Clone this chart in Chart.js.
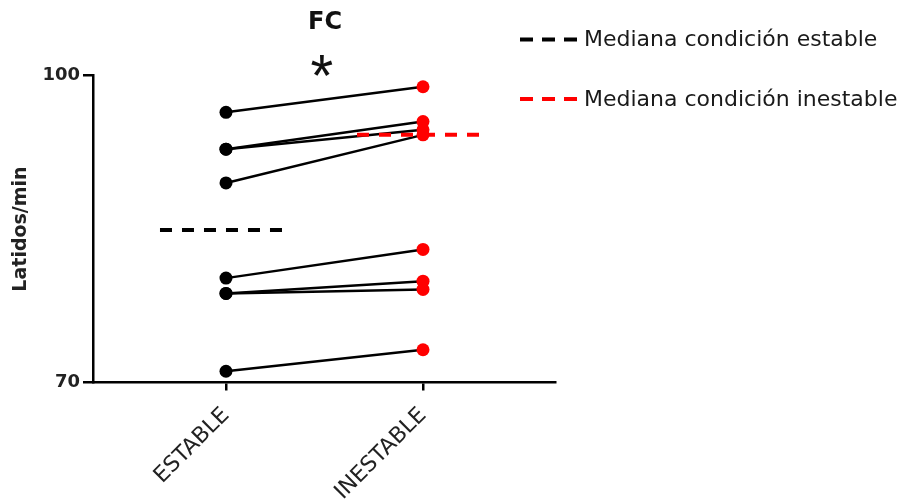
<!DOCTYPE html>
<html>
<head>
<meta charset="utf-8">
<script src="https://cdn.jsdelivr.net/npm/chart.js@4/dist/chart.umd.min.js"></script>
<style>
  html, body { margin: 0; padding: 0; background: #fff; }
  #wrap { width: 906px; height: 500px; }
</style>
</head>
<body>
<div id="wrap"><canvas id="c" width="906" height="500"></canvas></div>
<script>
// Heart rate (beats/min) per subject under each condition
const CATEGORIES = ['ESTABLE', 'INESTABLE'];
const ESTABLE = [96.4, 92.8, 92.8, 89.5, 80.2, 78.7, 78.7, 71.1];
const INESTABLE = [98.9, 95.5, 94.7, 94.2, 83.0, 79.9, 79.1, 73.2];
const MEDIAN_ESTABLE = 84.9;
const MEDIAN_INESTABLE = 94.2;
const Y_TICKS = [70, 100];
const TITLE = 'FC';
const SIGNIFICANCE = '*';
const Y_TITLE = 'Latidos/min';
const LEGEND_LABELS = ['Mediana condición estable', 'Mediana condición inestable'];

const BLACK = '#000000';
const RED = '#ff0000';
const MEDIAN_SPAN = [-0.335, 0.305];   // extent of a median bar around its category
const FONT = '"DejaVu Sans", "Liberation Sans", Arial, sans-serif';

// one segment per subject joining both conditions
const pairDatasets = ESTABLE.map((e, i) => ({
  type: 'line',
  data: [{ x: 0, y: e }, { x: 1, y: INESTABLE[i] }],
  borderColor: BLACK,
  borderWidth: 2.5,
  pointRadius: 0,
  clip: false,
  order: 3
}));

const dotDataset = (values, idx, color) => ({
  type: 'scatter',
  data: values.map(v => ({ x: idx, y: v })),
  pointRadius: 6.5,
  pointBackgroundColor: color,
  pointBorderWidth: 0,
  clip: false,
  order: 0
});

const medianDataset = (value, idx, color) => ({
  type: 'line',
  data: [{ x: idx + MEDIAN_SPAN[0], y: value }, { x: idx + MEDIAN_SPAN[1], y: value }],
  borderColor: color,
  borderWidth: 4,
  borderDash: [12, 10],
  borderCapStyle: 'butt',
  pointRadius: 0,
  clip: false,
  order: 1
});

// title, significance mark and the median legend
const annotations = {
  id: 'annotations',
  afterDraw(chart) {
    const { ctx, chartArea: a } = chart;
    const cx = (a.left + a.right) / 2;
    ctx.save();
    ctx.fillStyle = '#111';
    ctx.textBaseline = 'alphabetic';
    ctx.textAlign = 'center';
    ctx.font = 'bold 24px ' + FONT;
    ctx.fillText(TITLE, cx + 1, 29);

    // asterisk scaled to a fixed glyph height
    const starFont = '"Liberation Sans", Arial, sans-serif';
    ctx.textAlign = 'left';
    ctx.font = '100px ' + starFont;
    let m = ctx.measureText(SIGNIFICANCE);
    const size = 100 * 21 / (m.actualBoundingBoxAscent + m.actualBoundingBoxDescent);
    ctx.font = size.toFixed(1) + 'px ' + starFont;
    m = ctx.measureText(SIGNIFICANCE);
    const w = m.actualBoundingBoxRight + m.actualBoundingBoxLeft;
    ctx.fillText(SIGNIFICANCE, cx - 2.5 - w / 2 + m.actualBoundingBoxLeft, 55 + m.actualBoundingBoxAscent);

    // legend
    const rows = [[BLACK, 39.5], [RED, 99]];
    ctx.font = '22px ' + FONT;
    ctx.textBaseline = 'middle';
    rows.forEach(([color, y], i) => {
      ctx.strokeStyle = color;
      ctx.lineWidth = 4;
      ctx.setLineDash([13, 9]);
      ctx.beginPath();
      ctx.moveTo(a.right - 35, y);
      ctx.lineTo(a.right + 23, y);
      ctx.stroke();
      ctx.fillStyle = '#1a1a1a';
      ctx.fillText(LEGEND_LABELS[i], a.right + 29, y + 1);
    });
    ctx.restore();
  }
};

new Chart(document.getElementById('c'), {
  data: {
    datasets: [
      ...pairDatasets,
      medianDataset(MEDIAN_ESTABLE, 0, BLACK),
      medianDataset(MEDIAN_INESTABLE, 1, RED),
      dotDataset(ESTABLE, 0, BLACK),
      dotDataset(INESTABLE, 1, RED)
    ]
  },
  options: {
    responsive: false,
    animation: false,
    devicePixelRatio: 1,
    layout: { padding: { top: 75.5, right: 351, bottom: 0, left: 0 } },
    plugins: {
      legend: { display: false },
      tooltip: { enabled: false },
      title: { display: false }
    },
    scales: {
      x: {
        type: 'linear',
        min: -0.675,
        max: 1.67,
        afterBuildTicks: s => { s.ticks = CATEGORIES.map((_, i) => ({ value: i })); },
        afterFit: s => { s.height = 117.5; },
        ticks: {
          autoSkip: false,
          minRotation: 45,
          maxRotation: 45,
          padding: 12,
          color: '#222',
          font: { family: FONT, size: 22 },
          callback: v => CATEGORIES[v] ?? ''
        },
        grid: { display: true, drawOnChartArea: false, drawTicks: true, tickLength: 8, color: BLACK, lineWidth: 2.5 },
        border: { display: true, color: BLACK, width: 2.5 }
      },
      y: {
        min: 70,
        max: 100,
        afterBuildTicks: s => { s.ticks = Y_TICKS.map(v => ({ value: v })); },
        afterFit: s => { s.width = 93; },
        ticks: {
          padding: 3,
          color: '#222',
          font: { family: FONT, size: 18, weight: 'bold' }
        },
        grid: { display: true, drawOnChartArea: false, drawTicks: true, tickLength: 10, color: BLACK, lineWidth: 2.5 },
        border: { display: true, color: BLACK, width: 2.5 },
        title: {
          display: true,
          text: Y_TITLE,
          color: '#222',
          font: { family: FONT, size: 19, weight: 'bold' },
          padding: { top: 10, bottom: 0 }
        }
      }
    }
  },
  plugins: [annotations]
});
</script>
</body>
</html>
